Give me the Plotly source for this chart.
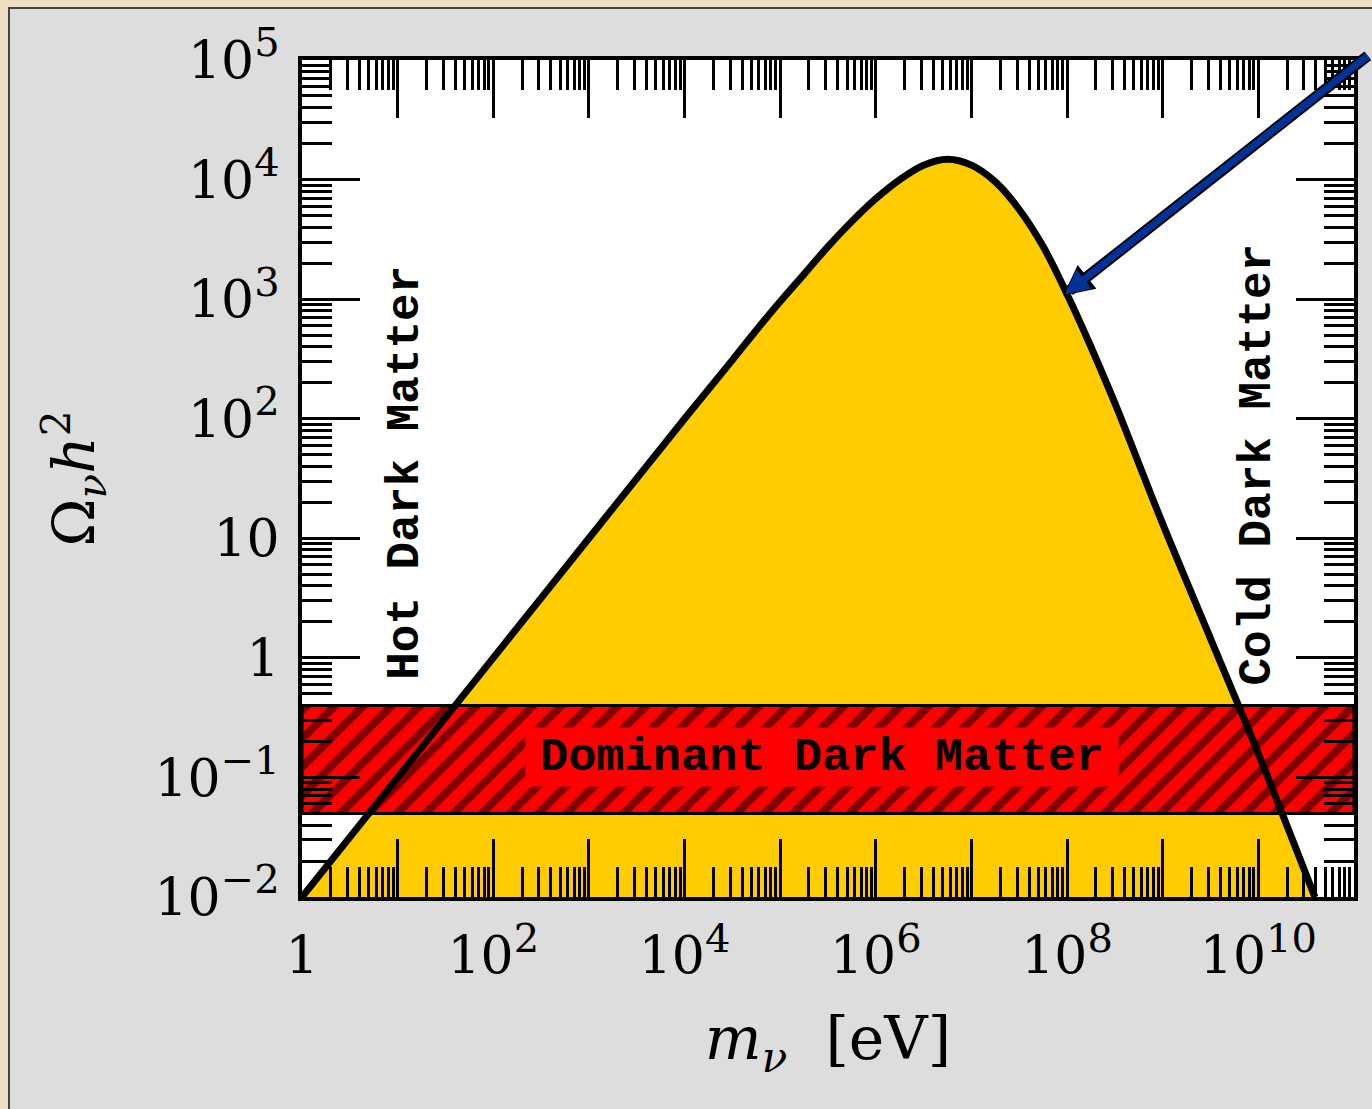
import plotly.graph_objects as go

# ---- data ----
m_ev = [1, 10, 100, 1e3, 1e4, 3.16e4, 5.62e4, 1.0e5, 1.78e5, 3.16e5, 5.62e5, 1.0e6,
        1.78e6, 3.16e6, 5.62e6, 1.0e7, 1.78e7, 3.16e7, 5.62e7, 1.0e8, 1.78e8, 3.16e8,
        1.0e9, 3.16e9, 1.0e10, 3.9e10]
omega_h2 = [0.01, 0.1, 1, 10, 100, 309, 550, 955, 1620, 2750, 4470, 6920,
            10000, 13200, 14800, 13200, 9550, 5620, 2750, 1100, 398, 135,
            13.2, 1.45, 0.158, 0.01]

band_low = 0.05
band_high = 0.4
band_x = [1, 1e11]

x_tick_exps = list(range(0, 12))
y_tick_exps = list(range(-2, 6))
x_tick_labels = ["1", "", "10^2", "", "10^4", "", "10^6", "", "10^8", "", "10^10", ""]
y_tick_labels = ["10^\u22122", "10^\u22121", "1", "10", "10^2", "10^3", "10^4", "10^5"]

label_hot = "Hot Dark Matter"
label_cold = "Cold Dark Matter"
label_dom = "Dominant Dark Matter"

# ---- styles ----
YELLOW = "#ffcc00"
RED = "#ff0000"
BLUE = "#003399"
GRAY = "#dddddd"
BEIGE = "#eedfc2"
MONO = "Liberation Mono"
SERIF = "DejaVu Serif"
TICK_SIZE = 52
SUP_SIZE = 40


def fmt(lbl):
    if "^" not in lbl:
        return lbl
    base, exp = lbl.split("^")
    return f'{base}<sup><span style="font-size:{SUP_SIZE}px">{exp}</span></sup>'


fig = go.Figure()

# yellow area under the curve
fig.add_trace(go.Scatter(x=m_ev, y=omega_h2, mode="lines", fill="toself",
                         fillcolor=YELLOW,
                         line=dict(width=0, color=YELLOW, shape="spline", smoothing=1.0),
                         hoverinfo="skip", showlegend=False))

# hatched red band
fig.add_trace(go.Scatter(x=[band_x[0], band_x[1], band_x[1], band_x[0], band_x[0]],
                         y=[band_low, band_low, band_high, band_high, band_low],
                         mode="lines", fill="toself", fillcolor=RED,
                         fillpattern=dict(shape="/", fgcolor="black", bgcolor=RED,
                                          size=20, solidity=0.4),
                         line=dict(color="black", width=3),
                         hoverinfo="skip", showlegend=False))

# the curve
fig.add_trace(go.Scatter(x=m_ev, y=omega_h2, mode="lines",
                         line=dict(color="black", width=7, shape="spline", smoothing=1.0),
                         hoverinfo="skip", showlegend=False))

# minor tick values (2..9 per decade)
x_minor = [k * 10 ** e for e in range(0, 11) for k in range(2, 10)]
y_minor = [k * 10.0 ** e for e in range(-2, 5) for k in range(2, 10)]

axis_common = dict(showline=True, linewidth=4, linecolor="black", mirror="ticks",
                   ticks="inside", ticklen=58, tickwidth=3, tickcolor="black",
                   showgrid=False, zeroline=False)

fig.update_xaxes(type="log", range=[0, 11],
                 tickmode="array", tickvals=[10.0 ** e for e in x_tick_exps],
                 ticktext=[fmt(t) for t in x_tick_labels],
                 minor=dict(tickmode="array", tickvals=x_minor, ticks="inside", ticklen=30,
                            tickwidth=3, tickcolor="black", showgrid=False),
                 tickfont=dict(family=SERIF, size=TICK_SIZE, color="black"),
                 ticklabelstandoff=10,
                 title=dict(text="<i>m</i><sub><i>\u03bd</i></sub>  [eV]",
                            font=dict(family=SERIF, size=60, color="black"), standoff=34),
                 **axis_common)
fig.update_yaxes(type="log", range=[-2, 5],
                 tickmode="array", tickvals=[10.0 ** e for e in y_tick_exps],
                 ticktext=[fmt(t) for t in y_tick_labels],
                 minor=dict(tickmode="array", tickvals=y_minor, ticks="inside", ticklen=30,
                            tickwidth=3, tickcolor="black", showgrid=False),
                 tickfont=dict(family=SERIF, size=TICK_SIZE, color="black"),
                 ticklabelstandoff=8,
                 title=dict(text="\u03a9<sub><i>\u03bd</i></sub><i>h</i><sup>2</sup>",
                            font=dict(family=SERIF, size=58, color="black"), standoff=42),
                 **axis_common)

# background panel
W, H = 1372, 1109
L, R, T, B = 302, 18, 60, 212
pw, ph = W - L - R, H - T - B


def px(x):
    return (x - L) / pw


def py(y):
    return (H - B - y) / ph


fig.add_shape(type="rect", xref="paper", yref="paper", layer="below",
              x0=px(9), x1=px(W + 10), y0=py(H + 10), y1=py(8),
              fillcolor=GRAY, line=dict(color="#444444", width=2))
fig.add_shape(type="rect", xref="paper", yref="paper", layer="below",
              x0=0, x1=1, y0=0, y1=1, fillcolor="white", line=dict(width=0))

# text labels
fig.add_annotation(x=1.08, y=1.55, xref="x", yref="y", text=label_hot, textangle=-90,
                   showarrow=False, font=dict(family=MONO, size=46, color="black", weight="bold"))
fig.add_annotation(x=10.0, y=1.62, xref="x", yref="y", text=label_cold, textangle=-90,
                   showarrow=False, font=dict(family=MONO, size=46, color="black", weight="bold"))
fig.add_annotation(x=5.44, y=-0.83, xref="x", yref="y", text=label_dom,
                   showarrow=False, bgcolor=RED, width=592, height=58, borderpad=0,
                   font=dict(family=MONO, size=47, color="black", weight="bold"))

# arrow pointing to the curve (black outline + blue)
ARROW_TIP = (7.96, 3.03)
fig.add_annotation(x=ARROW_TIP[0], y=ARROW_TIP[1], xref="x", yref="y", text="", showarrow=True,
                   ax=306, ay=-241, arrowhead=2, arrowwidth=11, arrowsize=0.55,
                   arrowcolor="black")
fig.add_annotation(x=ARROW_TIP[0], y=ARROW_TIP[1], xref="x", yref="y", text="", showarrow=True,
                   ax=306, ay=-241, arrowhead=2, arrowwidth=7, arrowsize=0.7,
                   arrowcolor=BLUE, standoff=2)

fig.update_layout(width=W, height=H, margin=dict(l=L, r=R, t=T, b=B, autoexpand=False),
                  paper_bgcolor=BEIGE, plot_bgcolor="white", showlegend=False)

fig.write_html("out.html")
